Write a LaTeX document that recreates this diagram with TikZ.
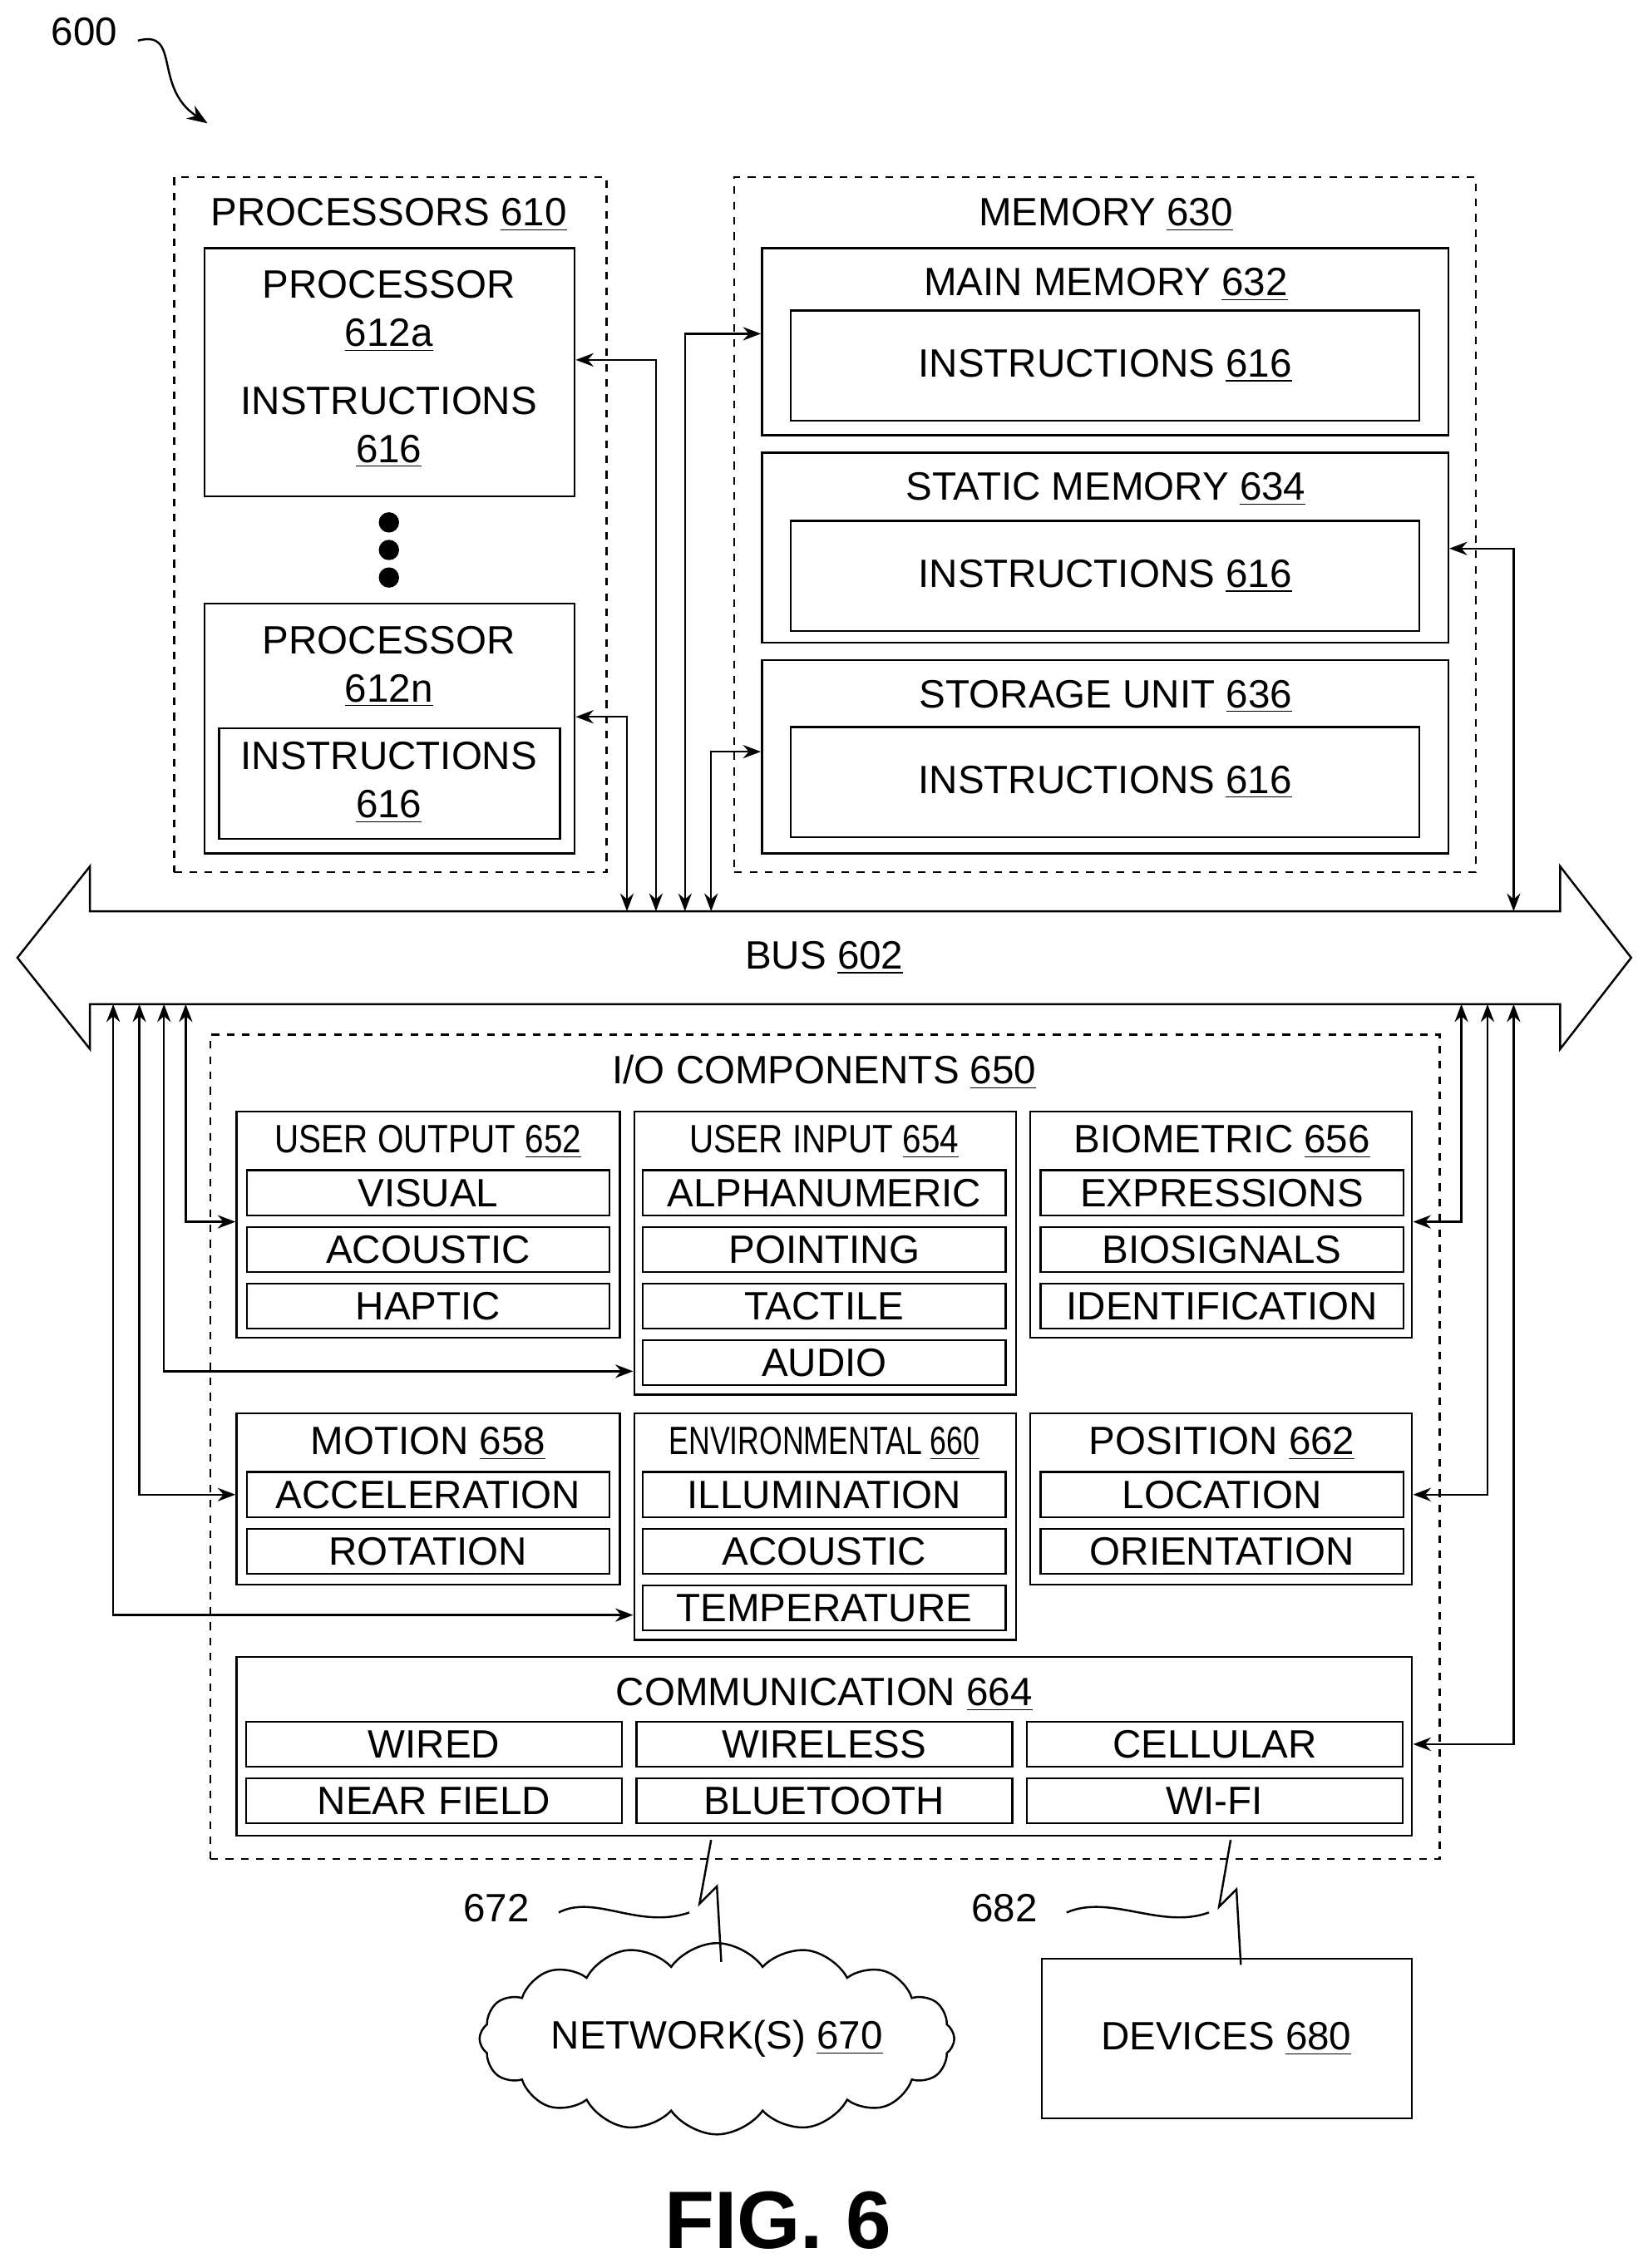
\documentclass[tikz,border=0pt]{standalone}
\usepackage{fontspec}
\setmainfont{Liberation Sans}
\usetikzlibrary{fit,shapes.symbols,arrows.meta}
\newcommand{\ul}[1]{\underline{#1}}
\tikzset{
  every node/.style={font=\fontsize{15.5}{19}\selectfont, inner sep=0pt},
  box/.style={draw, thick, fit={#1}, inner sep=0pt},
  dbox/.style={draw, thick, dashed, fit={#1}, inner sep=0pt},
  item/.style={draw, thick, minimum width=5cm, minimum height=0.62cm},
  citem/.style={draw, thick, minimum width=5.18cm, minimum height=0.62cm},
  link/.style={thick, {Stealth[length=7pt]}-{Stealth[length=7pt]}},
  cond/.style={font=\fontsize{15.5}{19}\selectfont\addfontfeature{FakeStretch=0.85}},
}
\begin{document}
\begin{tikzpicture}[x=0.02cm, y=-0.02cm]
\useasboundingbox (0,0) rectangle (1132,1563);
% label 600
\node (n600) at (58,22) {600};
\draw[thick, -{Stealth[length=8pt]}] (95,28) .. controls (125,20) and (105,60) .. (143,85);

% processors
\node[dbox={(120,122) (418,601)}] (procs) {};
\node at (268,148) {PROCESSORS \ul{610}};
\node[box={(141,171) (396,342)}] (procA) {};
\node at (268,196) {PROCESSOR};
\node at (268,231) {\ul{612a}};
\node at (268,276) {INSTRUCTIONS};
\node at (268,311) {\ul{616}};
\foreach \y in {360,379,398}
  \fill (268,\y) circle (7);
\node[box={(141,416) (396,588)}] (procN) {};
\node at (268,441) {PROCESSOR};
\node at (268,476) {\ul{612n}};
\node[box={(151,502) (386,578)}] (procNi) {};
\node at (268,521) {INSTRUCTIONS};
\node at (268,556) {\ul{616}};

% memory
\node[dbox={(506,122) (1017,601)}] (mem) {};
\node at (762,148) {MEMORY \ul{630}};
\node[box={(525,171) (998,300)}] (main) {};
\node at (762,196) {MAIN MEMORY \ul{632}};
\node[box={(545,214) (978,290)}] (mainI) {};
\node at (mainI) {INSTRUCTIONS \ul{616}};
\node[box={(525,312) (998,443)}] (static) {};
\node at (762,337) {STATIC MEMORY \ul{634}};
\node[box={(545,359) (978,435)}] (staticI) {};
\node at (staticI) {INSTRUCTIONS \ul{616}};
\node[box={(525,455) (998,588)}] (stor) {};
\node at (762,480) {STORAGE UNIT \ul{636}};
\node[box={(545,501) (978,577)}] (storI) {};
\node at (storI) {INSTRUCTIONS \ul{616}};

% bus
\draw[thick] (62,628) -- (1075,628) -- (1075,597) -- (1124,660) -- (1075,723) -- (1075,692)
  -- (62,692) -- (62,723) -- (12,660) -- (62,597) -- cycle;
\node (bus) at (568,660) {BUS \ul{602}};

% links to the bus (top)
\draw[link] (procA.east |- 0,248) -| (452,628);
\draw[link] (procN.east |- 0,494) -| (432,628);
\draw[link] (main.west |- 0,230) -| (472,628);
\draw[link] (stor.west |- 0,518) -| (490,628);
\draw[link] (static.east |- 0,378) -| (1043,628);

% I/O components
\node[dbox={(145,713) (992,1281)}] (io) {};
\node at (568,739) {I/O COMPONENTS \ul{650}};

\node[box={(163,766) (427,922)}] (uout) {};
\node[cond] at (295,787) {USER OUTPUT \ul{652}};
\node[item] (visual) at (295,822) {VISUAL};
\node[item] (acous) at (295,861) {ACOUSTIC};
\node[item] (haptic) at (295,900) {HAPTIC};

\node[box={(437,766) (700,961)}] (uin) {};
\node[cond] at (568,787) {USER INPUT \ul{654}};
\node[item] (alpha) at (568,822) {ALPHANUMERIC};
\node[item] (point) at (568,861) {POINTING};
\node[item] (tact) at (568,900) {TACTILE};
\node[item] (audio) at (568,939) {AUDIO};

\node[box={(710,766) (973,922)}] (bio) {};
\node at (842,787) {BIOMETRIC \ul{656}};
\node[item] (expr) at (842,822) {EXPRESSIONS};
\node[item] (biosig) at (842,861) {BIOSIGNALS};
\node[item] (ident) at (842,900) {IDENTIFICATION};

\node[box={(163,974) (427,1092)}] (motion) {};
\node at (295,995) {MOTION \ul{658}};
\node[item] (accel) at (295,1030) {ACCELERATION};
\node[item] (rot) at (295,1069) {ROTATION};

\node[box={(437,974) (700,1130)}] (env) {};
\node[font=\fontsize{15.5}{19}\selectfont\addfontfeature{FakeStretch=0.75}] at (568,995) {ENVIRONMENTAL \ul{660}};
\node[item] (illum) at (568,1030) {ILLUMINATION};
\node[item] (acous2) at (568,1069) {ACOUSTIC};
\node[item] (temp) at (568,1108) {TEMPERATURE};

\node[box={(710,974) (973,1092)}] (pos) {};
\node at (842,995) {POSITION \ul{662}};
\node[item] (loc) at (842,1030) {LOCATION};
\node[item] (orient) at (842,1069) {ORIENTATION};

\node[box={(163,1142) (973,1265)}] (comm) {};
\node at (568,1168) {COMMUNICATION \ul{664}};
\node[citem] (wired) at (299,1202) {WIRED};
\node[citem] (wireless) at (568,1202) {WIRELESS};
\node[citem] (cell) at (837,1202) {CELLULAR};
\node[citem] (near) at (299,1241) {NEAR FIELD};
\node[citem] (blue) at (568,1241) {BLUETOOTH};
\node[citem] (wifi) at (837,1241) {WI-FI};

% links to the bus (bottom)
\draw[link] (uout.west |- 0,842) -| (128,692);
\draw[link] (uin.west |- 0,945) -| (113,692);
\draw[link] (motion.west |- 0,1030) -| (96,692);
\draw[link] (env.west |- 0,1113) -| (78,692);
\draw[link] (bio.east |- 0,842) -| (1007,692);
\draw[link] (pos.east |- 0,1030) -| (1025,692);
\draw[link] (comm.east |- 0,1202) -| (1043,692);

% network and devices
\node[draw, thick, cloud, cloud puffs=16, cloud puff arc=110, aspect=3.2,
  minimum width=6.4cm, minimum height=2.1cm] (net) at (494,1405) {NETWORK(S) \ul{670}};
\node[box={(718,1350) (973,1460)}] (dev) {};
\node at (845,1405) {DEVICES \ul{680}};
\draw[thick] (490,1268) -- (482,1312) -- (494,1300) -- (497,1352);
\draw[thick] (848,1268) -- (840,1314) -- (852,1302) -- (855,1354);
\node (n672) at (342,1315) {672};
\node (n682) at (692,1315) {682};
\draw[thick] (385,1318) .. controls (410,1305) and (440,1330) .. (475,1318);
\draw[thick] (735,1318) .. controls (765,1305) and (800,1330) .. (833,1318);

\node[font=\fontsize{32}{38}\selectfont\bfseries] (fig) at (536,1530) {FIG. 6};
\end{tikzpicture}
\end{document}
